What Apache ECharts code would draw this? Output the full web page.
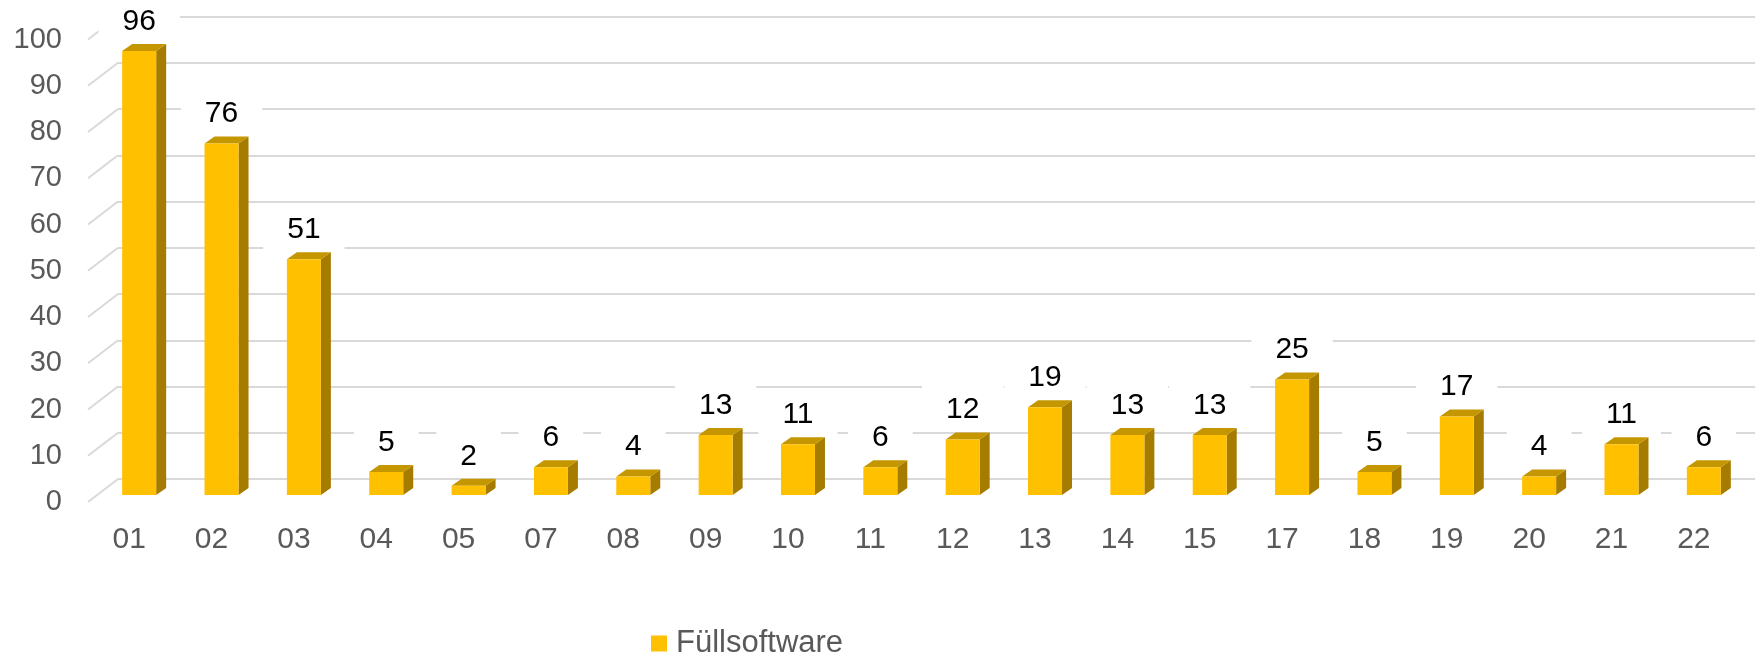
<!DOCTYPE html>
<html>
<head>
<meta charset="utf-8">
<script src="https://cdn.jsdelivr.net/npm/echarts@6/dist/echarts.min.js"></script>
<style>
html,body{margin:0;padding:0;background:#fff;}
#chart{width:1755px;height:656px;}
</style>
</head>
<body>
<div id="chart"></div>
<script>
const categories = ['01','02','03','04','05','07','08','09','10','11','12','13','14','15','17','18','19','20','21','22'];
const values = [96,76,51,5,2,6,4,13,11,6,12,19,13,13,25,5,17,4,11,6];
const yTicks = [0,10,20,30,40,50,60,70,80,90,100];
const seriesName = 'Füllsoftware';

const FONT = '"Liberation Sans", Arial, sans-serif';
const FRONT = '#FFC000', TOP = '#C49600', SIDE = '#A67C00';
const GRID = '#D9D9D9';
// perspective offsets
const WALL_DX = 30, WALL_DY = -23;   // floor depth (front -> back wall)
const BAR_OFF_X = 10, BAR_OFF_Y = -7; // bar front face offset from front plane
const BAR_DX = 10, BAR_DY = -7;       // bar depth
const BAR_W = 34;

const chart = echarts.init(document.getElementById('chart'));

function renderBar(params, api) {
  const i = api.value(0), v = api.value(1);
  const base = api.coord([i, 0]);
  const topP = api.coord([i, v]);
  const cx = base[0] + BAR_OFF_X;
  const x0 = cx - BAR_W / 2, x1 = cx + BAR_W / 2;
  const yb = base[1] + BAR_OFF_Y, yt = topP[1] + BAR_OFF_Y;
  return {
    type: 'group',
    children: [
      { type: 'polygon', shape: { points: [[x1, yt], [x1 + BAR_DX, yt + BAR_DY], [x1 + BAR_DX, yb + BAR_DY], [x1, yb]] }, style: { fill: SIDE } },
      { type: 'polygon', shape: { points: [[x0, yt], [x1, yt], [x1 + BAR_DX, yt + BAR_DY], [x0 + BAR_DX, yt + BAR_DY]] }, style: { fill: TOP } },
      { type: 'rect', shape: { x: x0, y: yt, width: BAR_W, height: yb - yt }, style: { fill: FRONT } },
      { type: 'text', z2: 10, style: {
          text: String(v), x: cx, y: yt + BAR_DY - 1.5,
          align: 'center', verticalAlign: 'bottom',
          font: '30px ' + FONT, fill: '#000', lineHeight: 30,
          backgroundColor: '#fff', padding: [10, 24, 6, 24]
      } }
    ]
  };
}

function renderWall(params, api) {
  const v = api.value(0);
  const p = api.coord([0, v]);
  const half = api.size([1, 0])[0] / 2;
  const x = p[0] - half, y = p[1];
  return {
    type: 'line',
    shape: { x1: x, y1: y, x2: x + WALL_DX, y2: y + WALL_DY },
    style: { stroke: GRID, lineWidth: 2 }
  };
}

const option = {
  animation: false,
  backgroundColor: '#fff',
  grid: [
    { left: 88, right: 20, top: 39.5, bottom: 154 },
    { left: 88 + WALL_DX, right: -40, top: 39.5 + WALL_DY, bottom: 154 - WALL_DY }
  ],
  xAxis: [
    { type: 'category', gridIndex: 0, data: categories,
      axisLine: { show: false }, axisTick: { show: false }, splitLine: { show: false },
      axisLabel: { color: '#595959', fontSize: 30, fontFamily: FONT, margin: 23 } },
    { type: 'category', gridIndex: 1, data: categories, show: false }
  ],
  yAxis: [
    { type: 'value', gridIndex: 0, min: 0, max: 100, interval: 10,
      axisLine: { show: false }, axisTick: { show: false }, splitLine: { show: false },
      axisLabel: { color: '#595959', fontSize: 29, fontFamily: FONT, margin: 26 } },
    { type: 'value', gridIndex: 1, min: 0, max: 100, interval: 10,
      axisLine: { show: false }, axisTick: { show: false }, axisLabel: { show: false },
      splitLine: { show: true, lineStyle: { color: GRID, width: 2 } } }
  ],
  legend: {
    left: 651, top: 628, padding: 0,
    itemWidth: 16, itemHeight: 16, icon: 'rect',
    textStyle: { color: '#595959', fontSize: 31, fontFamily: FONT, padding: [0, 0, 0, 4] },
    data: [seriesName]
  },
  series: [
    { type: 'custom', name: 'wall', xAxisIndex: 0, yAxisIndex: 0, z: 1, silent: true,
      data: yTicks.map(t => [t]), encode: { y: 0 }, renderItem: renderWall },
    { type: 'custom', name: seriesName, xAxisIndex: 0, yAxisIndex: 0, z: 3,
      itemStyle: { color: FRONT },
      data: values.map((v, i) => [i, v]), encode: { x: 0, y: 1 }, renderItem: renderBar }
  ]
};
chart.setOption(option);
</script>
</body>
</html>
